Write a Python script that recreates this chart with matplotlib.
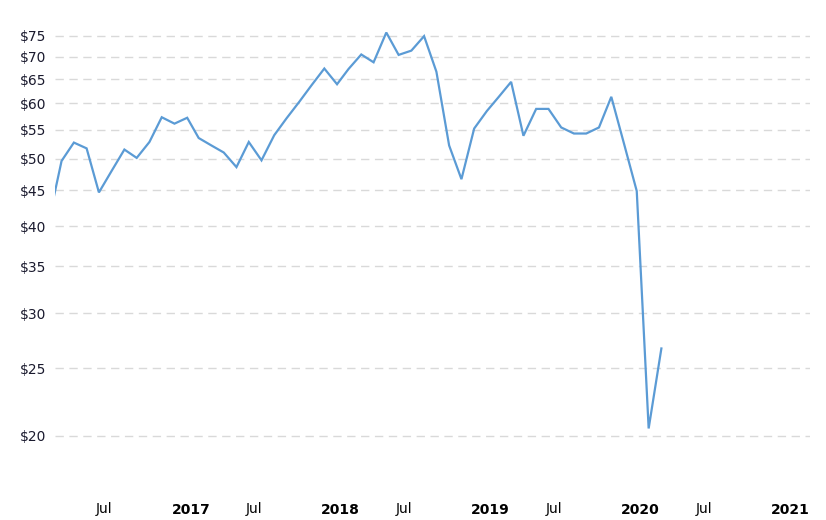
import matplotlib
matplotlib.use("Agg")
import matplotlib.pyplot as plt
import matplotlib.dates as mdates
import matplotlib.transforms as mtransforms
from matplotlib.ticker import FixedLocator, NullLocator, FixedFormatter
import pandas as pd
import numpy as np

# Monthly prices, Mar 2016 .. Apr 2020
start_month = "2016-03-01"
prices = [
    40.8,                                                     # 2016 Mar
    49.6, 52.7, 51.7, 44.7, 48.0, 51.5, 50.1, 52.8, 57.3,       # 2016 Apr-Dec
    56.1, 57.2, 53.5, 52.2, 51.0, 48.6, 52.8, 49.7, 54.0, 57.1, 60.3, 63.7,  # 2017
    67.3, 63.9, 67.2, 70.5, 68.7, 75.8, 70.4, 71.4, 74.9, 66.6, 52.2, 46.7,  # 2018
    55.2, 58.5, 61.2, 64.4, 53.9, 58.9, 58.9, 55.4, 54.3, 54.3, 55.4, 61.3,  # 2019
    52.5, 44.9, 20.5, 26.7,                                   # 2020 Jan-Apr
]
dates = pd.date_range(start_month, periods=len(prices), freq="MS")

y_ticks = [20, 25, 30, 35, 40, 45, 50, 55, 60, 65, 70, 75]
y_labels = [f"${v}" for v in y_ticks]
x_tick_dates = ["2016-07-01", "2017-01-01", "2017-07-01", "2018-01-01", "2018-07-01",
                "2019-01-01", "2019-07-01", "2020-01-01", "2020-07-01", "2021-01-01"]
x_tick_labels = ["Jul", "2017", "Jul", "2018", "Jul", "2019", "Jul", "2020", "Jul", "2021"]

W, H = 826, 520
fig = plt.figure(figsize=(W / 100, H / 100), dpi=100)
ax = fig.add_axes([55 / W, 1 - 490 / H, (810 - 55) / W, (490 - 20) / H])

ax.plot(dates, prices, color="#5b9bd5", linewidth=1.6, solid_joinstyle="miter", zorder=3)

ax.set_yscale("log")
ax.set_ylim(16.73, 79.0)
ax.set_xlim(pd.Timestamp("2016-03-16"), pd.Timestamp("2021-03-29"))

ax.yaxis.set_major_locator(FixedLocator(y_ticks))
ax.yaxis.set_major_formatter(FixedFormatter(y_labels))
ax.yaxis.set_minor_locator(NullLocator())

xt = [mdates.date2num(pd.Timestamp(d)) for d in x_tick_dates]
ax.set_xticks(xt)
ax.set_xticklabels(x_tick_labels)
ax.xaxis.set_minor_locator(NullLocator())

ax.grid(axis="y", color="#d9d9d9", linestyle=(0, (6, 4)), linewidth=1.0)
ax.grid(axis="x", visible=False)
for s in ax.spines.values():
    s.set_visible(False)

ax.tick_params(axis="y", length=0, pad=6, labelsize=10, labelcolor="#1a1a2e")
ax.tick_params(axis="x", length=0, pad=9, labelsize=10, labelcolor="#000000")

offset = mtransforms.ScaledTranslation(-3 / 100, 0, fig.dpi_scale_trans)
for lbl in ax.get_xticklabels():
    lbl.set_horizontalalignment("left")
    lbl.set_transform(lbl.get_transform() + offset)
    if lbl.get_text() != "Jul":
        lbl.set_fontweight("bold")

fig.savefig("out.png", dpi=100)
